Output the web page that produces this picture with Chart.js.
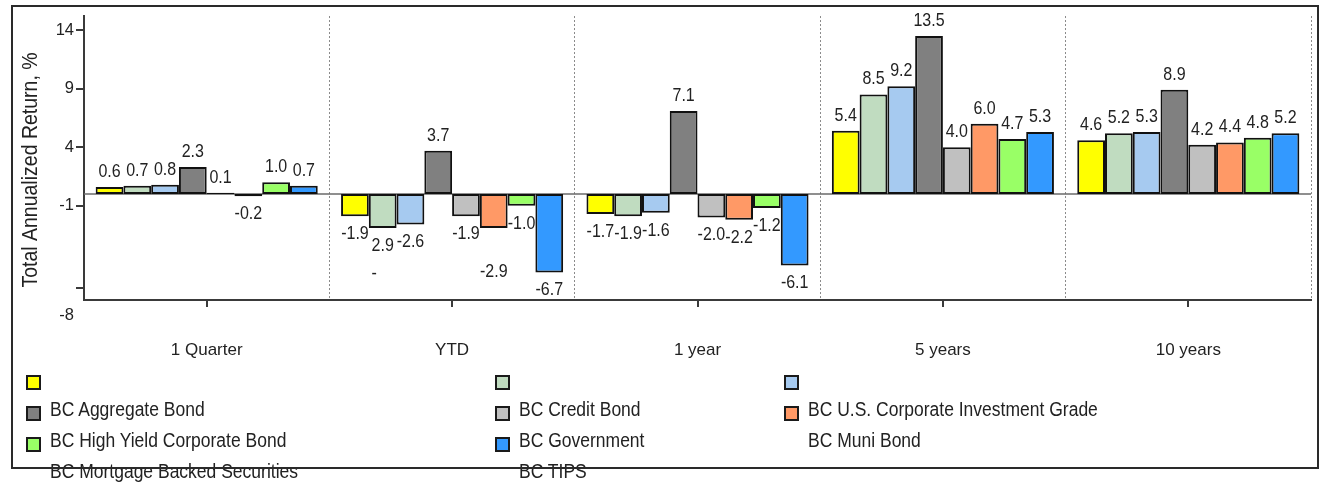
<!DOCTYPE html>
<html>
<head>
<meta charset="utf-8">
<script src="https://cdn.jsdelivr.net/npm/chart.js@4"></script>
<style>
  html, body { margin: 0; padding: 0; background: #fff; }
  #page { position: relative; width: 1321px; height: 482px; overflow: hidden;
          font-family: 'Liberation Sans', Arial, sans-serif; }
  #plot { position: absolute; left: 0; top: 0; width: 1321px; height: 365px; }
  #legend { position: absolute; left: 0; top: 0; width: 1321px; height: 482px; }
  .lg-item { position: absolute; height: 24px; white-space: nowrap; }
  .lg-sw { position: absolute; left: 0; top: 8px; width: 15px; height: 15px;
           box-sizing: border-box; border: 2px solid #1a1a1a; }
  .lg-tx { position: absolute; left: 24px; top: 0; font-size: 17.5px; line-height: 20px;
           color: #222; transform: scaleY(1.12); transform-origin: left top; }
  #frame { position: absolute; left: 11px; top: 5px; width: 1308px; height: 464px;
           box-sizing: border-box; border: 2px solid #2a2a2a; pointer-events: none; }
</style>
</head>
<body>
<div id="page">
  <div id="plot"><canvas id="c"></canvas></div>
  <div id="legend"></div>
  <div id="frame"></div>
</div>
<script>
const FONT = "'Liberation Sans', Arial, sans-serif";

// Periods along the x axis
const periods = ['1 Quarter', 'YTD', '1 year', '5 years', '10 years'];

// Returns per series, one value per period (%)
const yellowSeries    = [0.6, -1.9, -1.7, 5.4, 4.6];
const paleGreenSeries = [0.7, -2.9, -1.9, 8.5, 5.2];
const paleBlueSeries  = [0.8, -2.6, -1.6, 9.2, 5.3];
const aggregateBond   = [2.3, 3.7, 7.1, 13.5, 8.9];
const creditBond      = [0.1, -1.9, -2.0, 4.0, 4.2];
const corpInvGrade    = [-0.2, -2.9, -2.2, 6.0, 4.4];
const highYieldCorp   = [1.0, -1.0, -1.2, 4.7, 4.8];
const government      = [0.7, -6.7, -6.1, 5.3, 5.2];

const seriesValues = [yellowSeries, paleGreenSeries, paleBlueSeries, aggregateBond,
                      creditBond, corpInvGrade, highYieldCorp, government];
const seriesColors = ['#ffff00', '#c0dcc0', '#a6caf0', '#808080',
                      '#c0c0c0', '#ff9966', '#99ff66', '#3399ff'];

// Legend entries: swatches for every series, names listed in order after the first three
const legendNames = ['BC Aggregate Bond', 'BC Credit Bond', 'BC U.S. Corporate Investment Grade',
                     'BC High Yield Corporate Bond', 'BC Government', 'BC Muni Bond',
                     'BC Mortgage Backed Securities', 'BC TIPS'];

// Y axis
const yTicks = [-8, -1, 4, 9, 14];
const yMin = -9.05, yMax = 15.2;
const yAxisTitle = 'Total Annualized Return, %';

// Label placement tweaks (dataset:index)
const labelDrop = { '5:1': 26 };
const labelWrapSign = { '1:1': true };

const INK = '#222';
const AXIS = '#3a3a3a';

// Draw text a little taller than the face's natural proportions
function tallText(ctx, txt, x, y, sy) {
  ctx.save();
  ctx.translate(x, y);
  ctx.scale(1, sy);
  ctx.fillText(txt, 0, 0);
  ctx.restore();
}

const valueLabels = {
  id: 'valueLabels',
  beforeDatasetsDraw(chart) {
    const { ctx, chartArea, scales } = chart;
    // zero line
    const y0 = scales.y.getPixelForValue(0);
    ctx.save();
    ctx.strokeStyle = '#6a6a6a';
    ctx.lineWidth = 1.5;
    ctx.beginPath();
    ctx.moveTo(chartArea.left, y0);
    ctx.lineTo(chartArea.right, y0);
    ctx.stroke();
    // value labels, drawn beneath the bars
    ctx.font = '16px ' + FONT;
    ctx.fillStyle = INK;
    ctx.textBaseline = 'alphabetic';
    const sy = 1.12;
    chart.data.datasets.forEach((ds, di) => {
      const meta = chart.getDatasetMeta(di);
      meta.data.forEach((bar, i) => {
        const v = ds.data[i];
        const key = di + ':' + i;
        const txt = v.toFixed(1);
        if (v >= 0) {
          ctx.textAlign = 'center';
          tallText(ctx, txt, bar.x, bar.y - 10, sy);
        } else {
          const base = bar.y + 23 + (labelDrop[key] || 0);
          if (labelWrapSign[key]) {
            const body = Math.abs(v).toFixed(1);
            const w = ctx.measureText(body).width;
            ctx.textAlign = 'center';
            tallText(ctx, body, bar.x, base, sy);
            ctx.textAlign = 'left';
            tallText(ctx, '-', bar.x - w / 2, base + 28, sy);
          } else {
            ctx.textAlign = 'center';
            tallText(ctx, txt, bar.x, base, sy);
          }
        }
      });
    });
    ctx.restore();
  },
  afterDraw(chart) {
    const { ctx, chartArea, scales } = chart;
    ctx.save();
    // short tick marks under each period
    ctx.strokeStyle = AXIS;
    ctx.lineWidth = 2;
    periods.forEach((p, i) => {
      const x = Math.round(scales.x.getPixelForValue(i));
      ctx.beginPath();
      ctx.moveTo(x, chartArea.bottom);
      ctx.lineTo(x, chartArea.bottom + 7);
      ctx.stroke();
    });
    // y axis title
    ctx.translate(chartArea.left - 53.5, (chartArea.top + chartArea.bottom) / 2 + 12);
    ctx.rotate(-Math.PI / 2);
    ctx.font = '19.5px ' + FONT;
    ctx.fillStyle = INK;
    ctx.textAlign = 'center';
    ctx.textBaseline = 'middle';
    ctx.scale(1, 1.12);
    ctx.fillText(yAxisTitle, 0, 0);
    ctx.restore();
  }
};

Chart.defaults.font.family = FONT;
Chart.defaults.color = INK;

new Chart(document.getElementById('c'), {
  type: 'bar',
  data: {
    labels: periods,
    datasets: seriesValues.map((vals, i) => ({
      label: i >= 3 ? legendNames[i - 3] : '',
      data: vals,
      backgroundColor: seriesColors[i]
    }))
  },
  options: {
    responsive: true,
    maintainAspectRatio: false,
    animation: false,
    layout: { padding: { top: 13, right: 10, left: 0, bottom: 0 } },
    plugins: { legend: { display: false }, tooltip: { enabled: false } },
    datasets: {
      bar: {
        categoryPercentage: 0.905,
        barPercentage: 1,
        borderWidth: 2,
        borderColor: '#111',
        borderSkipped: false
      }
    },
    scales: {
      x: {
        afterFit: s => { s.height = 65; },
        grid: { display: true, offset: true, drawTicks: false, color: '#8a8a8a', lineWidth: 1 },
        border: { display: true, color: AXIS, width: 2, dash: [2, 2] },
        ticks: { padding: 40, font: { size: 17 }, color: INK, maxRotation: 0, autoSkip: false }
      },
      y: {
        min: yMin,
        max: yMax,
        afterBuildTicks: s => { s.ticks = yTicks.map(v => ({ value: v })); },
        afterFit: s => { s.width = 84; },
        grid: { display: true, drawOnChartArea: false, drawTicks: true, tickLength: 8, color: AXIS, lineWidth: 2 },
        border: { display: true, color: AXIS, width: 2 },
        ticks: {
          padding: 2,
          color: INK,
          autoSkip: false,
          font: { size: 16.5, lineHeight: 1.7 },
          callback: v => (v === -8 ? ['', '', '-8'] : String(v))
        }
      }
    }
  },
  plugins: [valueLabels]
});

// Legend: three columns, swatches for each series, names in order
(function buildLegend() {
  const host = document.getElementById('legend');
  const colSwatchX = [26, 495, 784];
  const rowTop = r => 367 + 31 * r;
  const count = Math.max(seriesColors.length, legendNames.length + 3);
  for (let k = 0; k < count; k++) {
    const color = seriesColors[k] || null;
    const name = k >= 3 ? legendNames[k - 3] : null;
    const r = Math.floor(k / 3), c = k % 3;
    const item = document.createElement('div');
    item.className = 'lg-item';
    item.style.left = colSwatchX[c] + 'px';
    item.style.top = rowTop(r) + 'px';
    if (color) {
      const sw = document.createElement('div');
      sw.className = 'lg-sw';
      sw.style.background = color;
      item.appendChild(sw);
    }
    if (name) {
      const tx = document.createElement('div');
      tx.className = 'lg-tx';
      tx.textContent = name;
      item.appendChild(tx);
    }
    host.appendChild(item);
  }
})();
</script>
</body>
</html>
